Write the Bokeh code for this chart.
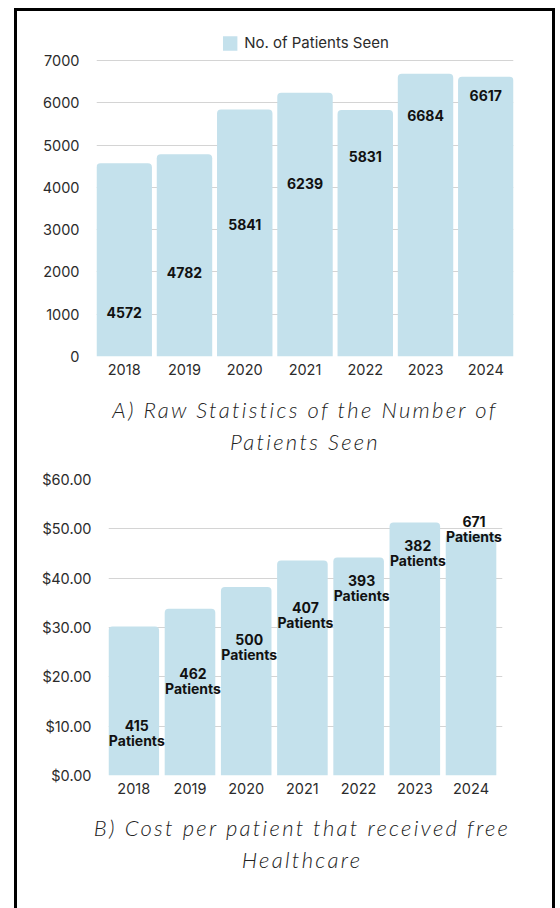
from bokeh.plotting import figure
from bokeh.models import (Range1d, FixedTicker, NumeralTickFormatter, Legend, LegendItem,
                          ColumnDataSource, Div, Spacer, LabelSet)
from bokeh.layouts import column, row
from bokeh.embed import file_html
from bokeh.resources import INLINE
from bokeh.core.properties import value

# ---------------- data ----------------
years = ["2018", "2019", "2020", "2021", "2022", "2023", "2024"]
patients_seen = [4572, 4782, 5841, 6239, 5831, 6684, 6617]
cost_per_patient = [30.2, 33.8, 38.2, 43.6, 44.2, 51.3, 49.0]
free_patients = [415, 462, 500, 407, 393, 382, 671]

# label anchor heights (data units) as placed in the original
label_y_a = [1030, 1980, 3120, 4090, 4730, 5700, 6170]
label_y_b = [10.2, 20.7, 27.6, 34.1, 39.6, 46.7, 51.5]

y_ticks_a = [0, 1000, 2000, 3000, 4000, 5000, 6000, 7000]
y_ticks_b = [0, 10, 20, 30, 40, 50, 60]

legend_a = "No. of Patients Seen"
title_a = ["A) Raw Statistics of the Number of", "Patients Seen"]
title_b = ["B) Cost per patient that received free", "Healthcare"]

# ---------------- styles ----------------
BAR = "#c4e1ec"
GRID = "#d4d4d4"
TXT = "#2b2b2b"
FONT = "Inter"
INNER_W = 535

xs = list(range(len(years)))
x_labels = {i: y for i, y in enumerate(years)}


def style_fig(p, yticks):
    p.outline_line_color = None
    p.xgrid.grid_line_color = None
    p.ygrid.grid_line_color = GRID
    p.ygrid.grid_line_width = 1
    p.ygrid.ticker = FixedTicker(ticks=yticks)
    p.yaxis.ticker = FixedTicker(ticks=yticks)
    p.xaxis.ticker = FixedTicker(ticks=xs)
    p.xaxis.major_label_overrides = x_labels
    for ax in (p.xaxis, p.yaxis):
        ax.axis_line_color = None
        ax.major_tick_line_color = None
        ax.minor_tick_line_color = None
        ax.major_label_text_font = FONT
        ax.major_label_text_font_size = "14.5px"
        ax.major_label_text_color = TXT
    p.yaxis.major_label_standoff = 11
    p.xaxis.major_label_standoff = 1
    p.background_fill_color = "white"
    p.border_fill_color = "white"


# ---------------- chart A ----------------
wa = 0.92
srcA = ColumnDataSource(dict(
    x=xs, top=patients_seen, ly=label_y_a, lbl=[str(v) for v in patients_seen]))

pA = figure(width=INNER_W, height=376, output_backend="svg", toolbar_location=None,
            x_range=Range1d(-wa / 2, len(years) - 1 + wa / 2), y_range=Range1d(0, 7850),
            min_border_left=79, min_border_right=39, min_border_top=13, min_border_bottom=31,
            frame_align=False)
style_fig(pA, y_ticks_a)
rA = pA.vbar(x="x", top="top", width=wa, source=srcA, fill_color=BAR, line_color=None,
             border_radius=(4, 4, 0, 0))
pA.text(x="x", y="ly", text="lbl", source=srcA, text_font=value(FONT), text_font_style="bold",
        text_font_size="14px", text_align="center", text_baseline="middle", text_color="#111111")

leg = Legend(items=[LegendItem(label=legend_a, renderers=[rA])], location="top_center",
             orientation="horizontal", border_line_color=None, background_fill_alpha=0,
             padding=0, margin=9, glyph_width=18, glyph_height=18, label_standoff=6,
             label_text_font=FONT, label_text_font_size="15px", label_text_color=TXT)
pA.add_layout(leg)

# ---------------- chart B ----------------
wb = 0.90
srcB = ColumnDataSource(dict(
    x=xs, top=cost_per_patient, ly=label_y_b, lbl=[str(v) for v in free_patients],
    lbl2=["Patients"] * len(years)))

# a little extra room on the right so the last label is not clipped
pB = figure(width=INNER_W, height=346, output_backend="svg", toolbar_location=None,
            x_range=Range1d(-wb / 2, len(years) - 1 + wb / 2 + 0.11), y_range=Range1d(0, 60),
            min_border_left=91, min_border_right=50, min_border_top=19, min_border_bottom=31,
            frame_align=False)
style_fig(pB, y_ticks_b)
pB.yaxis.formatter = NumeralTickFormatter(format="$0.00")
pB.vbar(x="x", top="top", width=wb, source=srcB, fill_color=BAR, line_color=None,
        border_radius=(4, 4, 0, 0))
for col, off in (("lbl", 0), ("lbl2", -15)):
    pB.add_layout(LabelSet(x="x", y="ly", text=col, source=srcB, x_offset=3, y_offset=off,
                           text_font=value(FONT), text_font_style="bold",
                           text_font_size="14px", text_align="center",
                           text_baseline="middle", text_color="#111111"))


# ---------------- titles ----------------
def title_div(lines, height, pad_top, pad_left):
    html = (f'<div style="box-sizing:border-box;width:{INNER_W}px;height:{height}px;'
            f'padding-top:{pad_top}px;padding-left:{pad_left}px;text-align:center;'
            f'font-family:Lato, sans-serif;font-style:italic;font-weight:300;font-size:22px;'
            f'letter-spacing:2.3px;line-height:32px;color:#222;white-space:nowrap;">'
            + "<br>".join(lines) + "</div>")
    return Div(text=html, width=INNER_W, height=height, margin=0)


dA = title_div(title_a, 73, 7, 41)
dB = title_div(title_b, 102, 6, 35)


def bar(w, h):
    return Div(text="", width=w, height=h, margin=0, styles={"background-color": "black"})


inner = column(pA, dA, pB, dB, spacing=0, margin=0)
H = 376 + 73 + 346 + 102
framed = column(bar(INNER_W + 6, 3),
                row(bar(3, H), inner, bar(3, H), spacing=0, margin=0),
                spacing=0, margin=0)
layout = column(Spacer(width=10, height=8, margin=0),
                row(Spacer(width=14, height=10, margin=0), framed, spacing=0, margin=0),
                spacing=0, margin=0)

open("out.html", "w").write(file_html(layout, INLINE))
